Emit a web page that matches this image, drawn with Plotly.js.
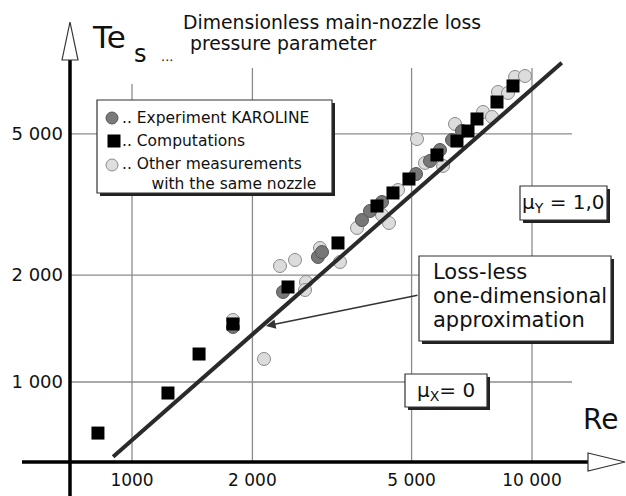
<!DOCTYPE html>
<html><head><meta charset="utf-8">
<script src="https://cdn.plot.ly/plotly-3.0.1.min.js"></script>
<style>html,body{margin:0;padding:0;background:#fff}#chart{width:626px;height:496px}</style>
</head><body><div id="chart"></div>
<script>
// ---- data ----
const karolineRe = [1788, 2385, 2917, 2985, 3758, 3936, 4217, 5129, 5559, 5888, 6310, 6683];
const karolineTe = [1429, 1793, 2250, 2323, 2859, 3032, 3214, 3853, 4194, 4503, 4805, 5093];
const compRe = [822, 1230, 1471, 1788, 2455, 3273, 4097, 4492, 4925, 5786, 6493, 6918, 7286, 8175, 8964];
const compTe = [718, 931, 1199, 1457, 1852, 2464, 3132, 3408, 3731, 4360, 4773, 5093, 5507, 6148, 6822];
const otherRe = [1788, 2138, 2344, 2556, 2723, 2707, 2951, 3311, 3652, 4217, 4390, 4624, 5158, 5401, 5992, 6420, 7544, 7943, 8222, 8710, 9069, 9605];
const otherTe = [1495, 1161, 2122, 2207, 1913, 1816, 2385, 2178, 2716, 2954, 2805, 3474, 4836, 4140, 4061, 5331, 5763, 5579, 6561, 6519, 7232, 7278];
const idealRe = [897, 11870];
const idealTe = [616, 7930];
const xTickVals = [1000, 2000, 5000, 10000];
const xTickText = ['1000', '2 000', '5 000', '10 000'];
const yTickVals = [1000, 2000, 5000];
const yTickText = ['1 000', '2 000', '5 000'];
const legendNames = ['.. Experiment KAROLINE', '.. Computations', '.. Other measurements<br>\u00a0\u00a0\u00a0\u00a0\u00a0\u00a0with the same nozzle'];
const titleLines = ['Dimensionless main-nozzle loss', 'pressure parameter'];

// ---- geometry helpers (pixel -> paper) ----
const L = 70, R = 600, T = 22, B = 462;
const X = p => (p - L) / (R - L);
const Y = p => (B - p) / (B - T);
const FONT = 'DejaVu Sans, sans-serif';

function rect(x0, y0, x1, y1, fill, lineColor, lw, layer) {
  return {type: 'rect', xref: 'paper', yref: 'paper', x0: X(x0), x1: X(x1), y0: Y(y1), y1: Y(y0),
    fillcolor: fill, line: {color: lineColor, width: lw}, layer: layer || 'above'};
}
function boxWithShadow(x0, y0, x1, y1) {
  return [rect(x0 + 3, y0 + 3, x1 + 3, y1 + 3, '#222', '#222', 0),
          rect(x0, y0, x1, y1, '#fff', '#333', 1.2)];
}
function circle(cx, cy, r, fill, lc) {
  return {type: 'circle', xref: 'paper', yref: 'paper', x0: X(cx - r), x1: X(cx + r), y0: Y(cy + r), y1: Y(cy - r),
    fillcolor: fill, line: {color: lc, width: 1}, layer: 'above'};
}
function txt(text, x, y, size, anchor) {
  return {text: text, xref: 'paper', yref: 'paper', x: X(x), y: Y(y), xanchor: anchor || 'left', yanchor: 'middle',
    align: 'left', showarrow: false, font: {family: FONT, size: size, color: '#111'}, borderpad: 0};
}

const shapes = [];
// partial grid lines
xTickVals.forEach(v => shapes.push({type: 'line', xref: 'x', yref: 'paper', x0: v, x1: v, y0: 0, y1: Y(v === 1000 ? 84 : 68),
  line: {color: '#8c8c8c', width: 1.3}, layer: 'below'}));
yTickVals.forEach(v => shapes.push({type: 'line', xref: 'paper', yref: 'y', x0: 0, x1: X(572), y0: v, y1: v,
  line: {color: '#8c8c8c', width: 1.3}, layer: 'below'}));
// axis lines
shapes.push({type: 'line', xref: 'paper', yref: 'paper', x0: X(22), x1: X(589), y0: 0, y1: 0, line: {color: '#000', width: 3.5}});
shapes.push({type: 'line', xref: 'paper', yref: 'paper', x0: 0, x1: 0, y0: Y(500), y1: Y(60), line: {color: '#000', width: 3.5}});
// arrow heads
shapes.push({type: 'path', xref: 'paper', yref: 'paper',
  path: `M ${X(588)} ${Y(453)} L ${X(625)} ${Y(462)} L ${X(588)} ${Y(471)} Z`, fillcolor: '#fff', line: {color: '#333', width: 1.2}});
shapes.push({type: 'path', xref: 'paper', yref: 'paper',
  path: `M ${X(62)} ${Y(60)} L ${X(70)} ${Y(22)} L ${X(78)} ${Y(60)} Z`, fillcolor: '#fff', line: {color: '#333', width: 1.2}});
// legend box
shapes.push(...boxWithShadow(97, 100, 332, 193));
shapes.push(circle(112, 118, 6, '#7a7a7a', '#555'));
shapes.push(rect(107.5, 134.5, 120.5, 147.5, '#000', '#000', 0));
shapes.push(circle(112, 165, 6, '#dedede', '#8a8a8a'));
// annotation boxes
shapes.push(...boxWithShadow(419, 256, 611, 341));
shapes.push(...boxWithShadow(520, 186, 607, 220));
shapes.push(...boxWithShadow(405, 374, 487, 407));

const annotations = [
  txt(titleLines[0], 182, 22, 18.8),
  txt(titleLines[1], 189, 43, 18.8),
  txt('Te', 91, 37, 31),
  txt('s', 133, 54, 24),
  txt('...', 160, 56, 13),
  txt(legendNames[0], 121, 118, 15.5),
  txt(legendNames[1], 121, 141, 15.5),
  txt(legendNames[2], 121, 174, 15.5),
  txt('Loss-less', 432, 272, 21),
  txt('one-dimensional', 432, 296, 21),
  txt('approximation', 432, 320, 21),
  txt('\u03bc<sub>Y</sub> = 1,0', 563, 203, 20, 'center'),
  txt('\u03bc<sub>X</sub>= 0', 446, 391, 20, 'center'),
  txt('Re', 582, 419, 28),
  {text: '', xref: 'paper', yref: 'paper', x: X(266), y: Y(326), ax: 153, ay: -31, axref: 'pixel', ayref: 'pixel',
   showarrow: true, arrowhead: 2, arrowsize: 1.2, arrowwidth: 1.6, arrowcolor: '#333', standoff: 0}
];

const traces = [
  {type: 'scatter', mode: 'markers', name: 'Other measurements with the same nozzle', x: otherRe, y: otherTe, showlegend: false,
   marker: {symbol: 'circle', size: 13, color: '#dcdcdc', line: {color: '#8a8a8a', width: 1}}},
  {type: 'scatter', mode: 'markers', name: 'Experiment KAROLINE', x: karolineRe, y: karolineTe, showlegend: false,
   marker: {symbol: 'circle', size: 13, color: '#777', line: {color: '#555', width: 1}}},
  {type: 'scatter', mode: 'lines', name: 'Loss-less one-dimensional approximation', x: idealRe, y: idealTe, showlegend: false,
   line: {color: '#2a2a2a', width: 4}},
  {type: 'scatter', mode: 'markers', name: 'Computations', x: compRe, y: compTe, showlegend: false,
   marker: {symbol: 'square', size: 13, color: '#000', line: {color: '#000', width: 0}}}
];

const layout = {
  width: 626, height: 496,
  margin: {l: L, r: 626 - R, t: T, b: 496 - B},
  paper_bgcolor: '#fff', plot_bgcolor: '#fff',
  showlegend: false,
  font: {family: FONT, color: '#111'},
  xaxis: {type: 'log', range: [2.845, 4.17], showgrid: false, zeroline: false, showline: false,
          tickvals: xTickVals, ticktext: xTickText, ticks: '', tickfont: {family: FONT, size: 17, color: '#111'},
          ticklabelstandoff: 6, fixedrange: true},
  yaxis: {type: 'log', range: [2.7746, 4.0141], showgrid: false, zeroline: false, showline: false,
          tickvals: yTickVals, ticktext: yTickText, ticks: '', tickfont: {family: FONT, size: 18, color: '#111'},
          ticklabelstandoff: 6, fixedrange: true},
  shapes: shapes,
  annotations: annotations
};

Plotly.newPlot('chart', traces, layout, {displayModeBar: false, staticPlot: true});
</script>
</body></html>
